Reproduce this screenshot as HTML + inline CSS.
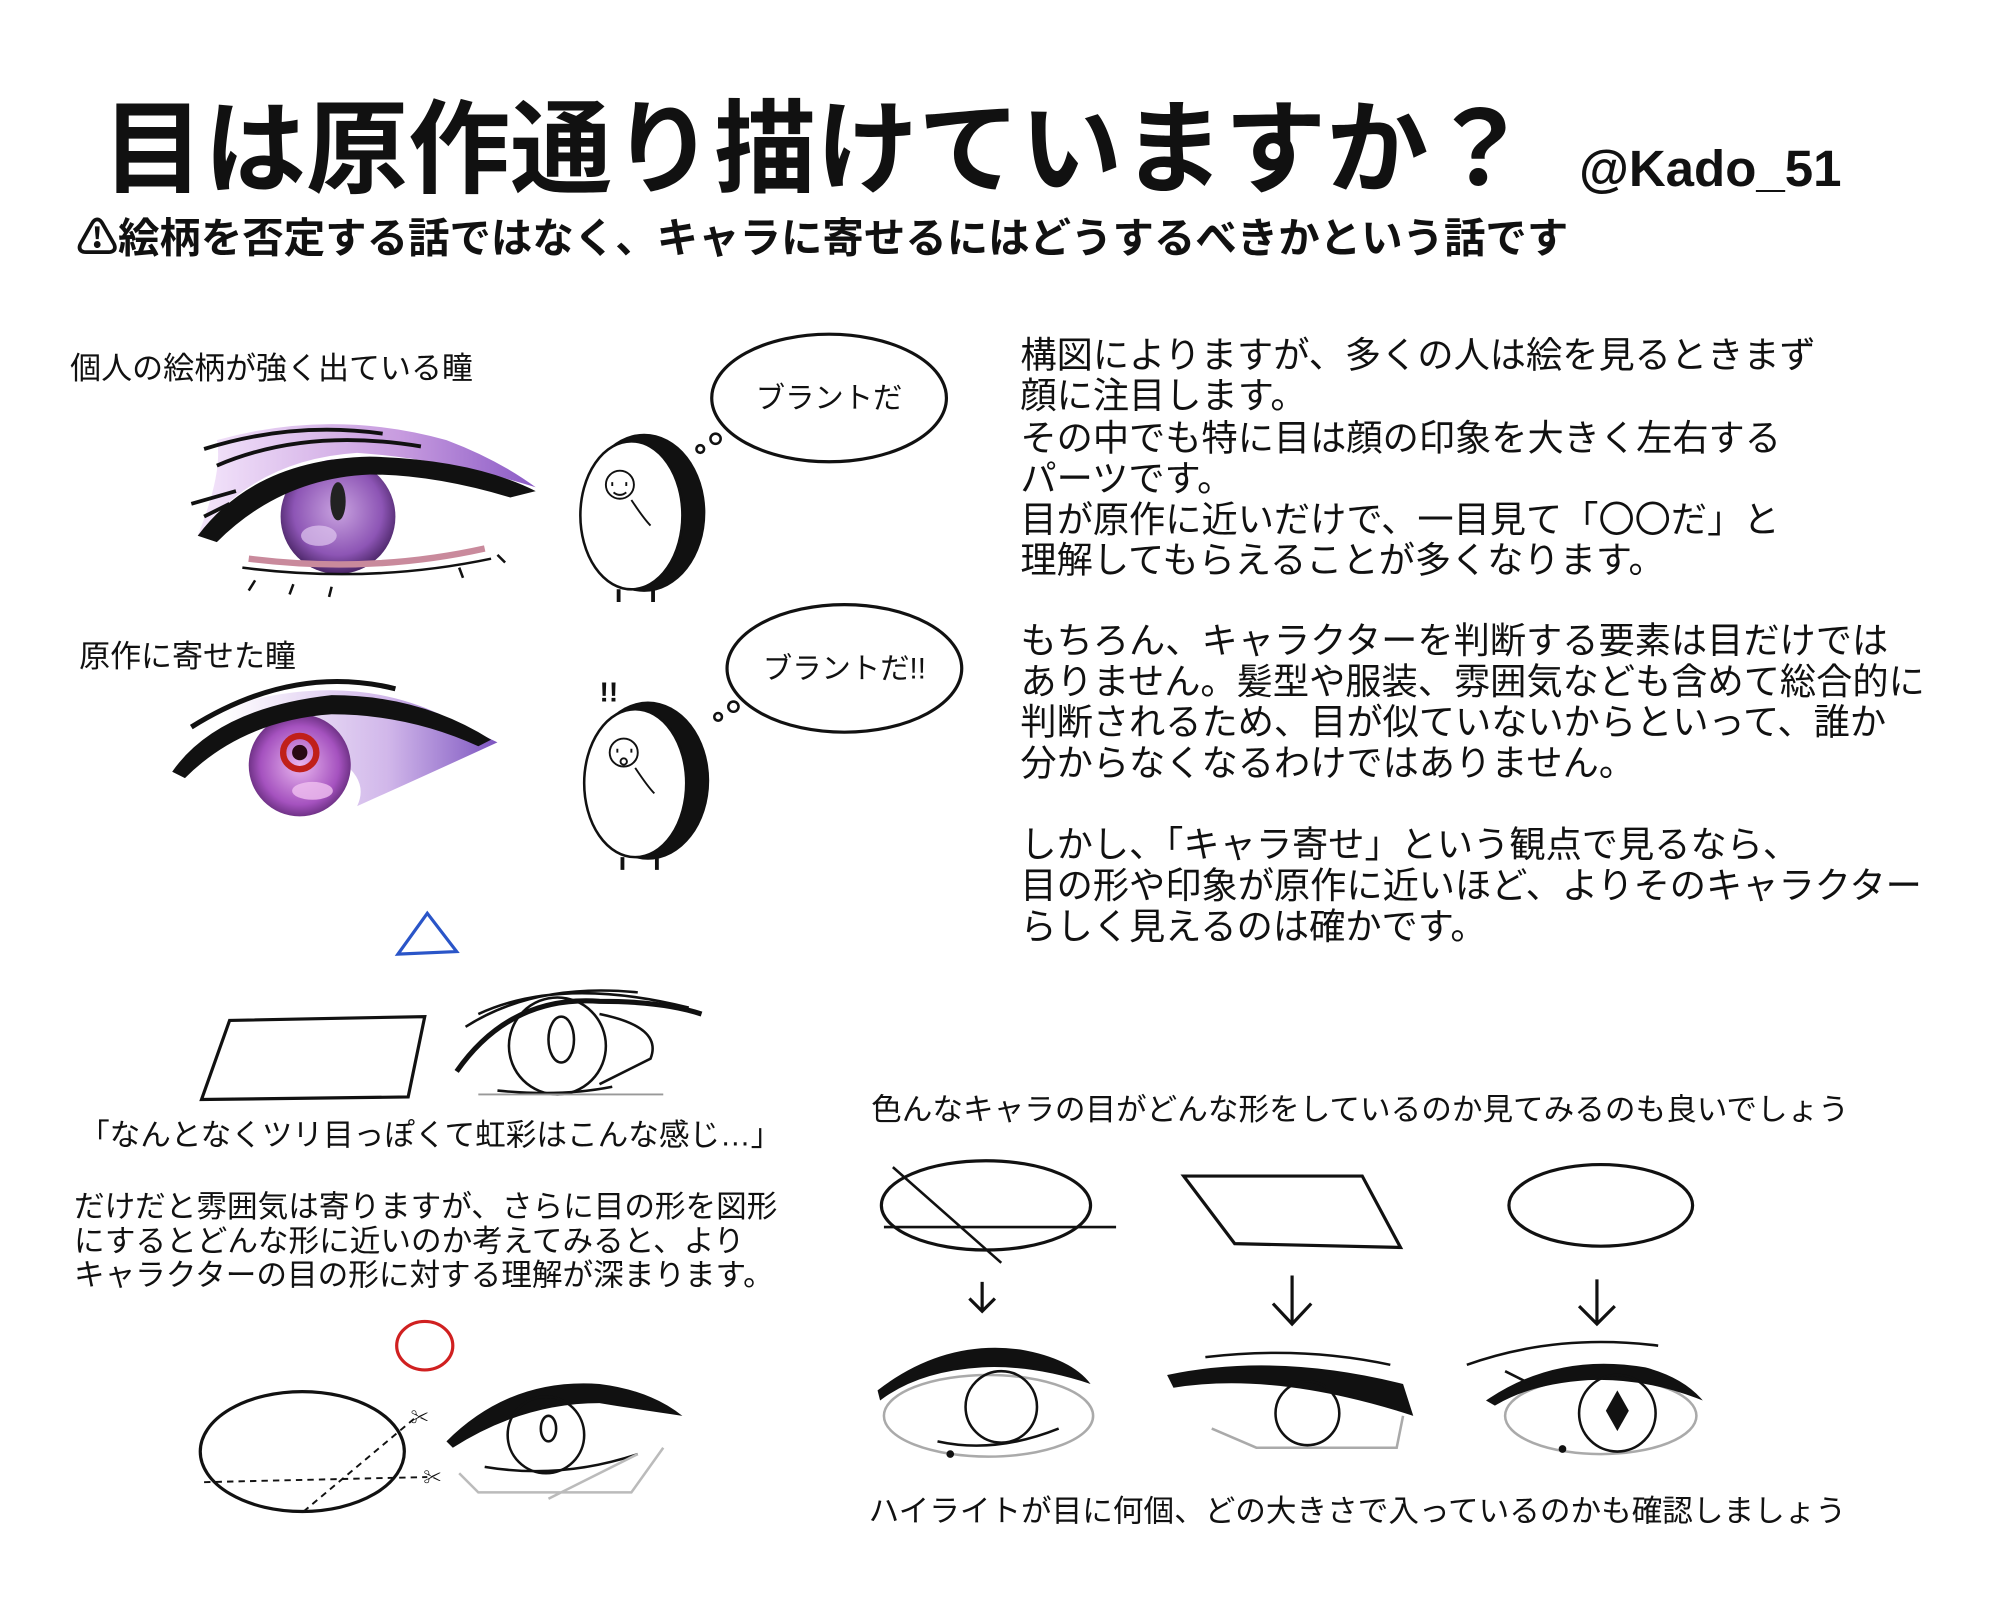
<!DOCTYPE html>
<html><head><meta charset="utf-8">
<style>
html,body{margin:0;padding:0;background:#fff;}
svg{display:block;}
text{font-family:"Liberation Sans","Noto Sans CJK JP",sans-serif;fill:#111;}
</style></head>
<body>
<svg width="2000" height="1611" viewBox="0 0 1568 1263" xmlns="http://www.w3.org/2000/svg">
<defs>
<radialGradient id="iris1" cx="50%" cy="45%" r="55%"><stop offset="0" stop-color="#c9a3e0"/><stop offset="0.7" stop-color="#8d55b5"/><stop offset="1" stop-color="#4a2566"/></radialGradient>
<radialGradient id="iris2" cx="50%" cy="50%" r="55%"><stop offset="0" stop-color="#e9b6ef"/><stop offset="0.7" stop-color="#a552bf"/><stop offset="1" stop-color="#5a2570"/></radialGradient>
<linearGradient id="shadow1" x1="0" x2="1"><stop offset="0" stop-color="#f4e6fb"/><stop offset="0.6" stop-color="#c79bdf"/><stop offset="1" stop-color="#8b5bc6"/></linearGradient>
<linearGradient id="shadow2" x1="0" x2="1"><stop offset="0" stop-color="#ffffff"/><stop offset="0.6" stop-color="#d1b7ea"/><stop offset="1" stop-color="#7d55c0"/></linearGradient>
</defs>
<rect width="1568" height="1263" fill="#fff"/>

<text x="80" y="145" font-size="80" font-weight="bold">目は原作通り描けていますか？</text>
<text x="1238" y="146" font-size="40" font-weight="bold">@Kado_51</text>
<text x="60" y="198" font-size="32.5" font-weight="bold">⚠絵柄を否定する話ではなく、キャラに寄せるにはどうするべきかという話です</text>

<text x="55" y="297" font-size="24.3">個人の絵柄が強く出ている瞳</text>
<text x="62" y="523" font-size="24.3">原作に寄せた瞳</text>

<!-- Eye 1 -->
<path d="M170 345 Q260 320 350 345 Q390 360 420 382 Q350 360 280 355 Q200 360 155 420 Q175 370 170 345Z" fill="url(#shadow1)"/>
<circle cx="265" cy="405" r="45" fill="url(#iris1)"/>
<ellipse cx="265" cy="393" rx="6" ry="15" fill="#222"/>
<ellipse cx="250" cy="420" rx="14" ry="8" fill="#e0c8f0" opacity="0.7"/>
<path d="M155 420 Q200 360 290 358 Q370 360 420 385 L400 390 Q340 372 290 372 Q220 375 170 425Z" fill="#111"/>
<path d="M160 352 Q230 330 300 340 M170 365 Q240 335 330 350 M180 395 L160 405 M185 385 L150 395" stroke="#111" stroke-width="3" fill="none"/>
<path d="M195 438 Q290 450 380 430" stroke="#c98a9c" stroke-width="5" fill="none"/>
<path d="M190 445 Q290 458 385 438" stroke="#111" stroke-width="2" fill="none"/>
<path d="M200 455 l-5 8 M230 458 l-3 8 M260 460 l-2 8 M360 445 l3 8 M390 435 l6 6" stroke="#111" stroke-width="2"/>

<!-- Eye 2 -->
<path d="M175 555 Q270 525 345 560 Q375 575 390 582 Q340 605 280 632 Q300 590 175 565Z" fill="url(#shadow2)"/>
<circle cx="235" cy="600" r="40" fill="url(#iris2)"/>
<circle cx="235" cy="590" r="13" fill="none" stroke="#c0201a" stroke-width="5"/>
<circle cx="235" cy="590" r="6" fill="#2a0a14"/>
<ellipse cx="245" cy="620" rx="16" ry="7" fill="#f0c0f0" opacity="0.8"/>
<path d="M135 605 Q170 555 260 545 Q330 545 385 580 L375 585 Q320 560 260 560 Q190 565 145 610Z" fill="#111"/>
<path d="M150 570 Q230 520 310 540" stroke="#111" stroke-width="4" fill="none"/>

<!-- Bubbles -->
<ellipse cx="650" cy="312" rx="92" ry="50" fill="#fff" stroke="#111" stroke-width="2.5"/>
<text x="650" y="320" font-size="23" text-anchor="middle">ブラントだ</text>
<circle cx="561" cy="344" r="4" fill="none" stroke="#111" stroke-width="2"/>
<circle cx="549" cy="352" r="3" fill="none" stroke="#111" stroke-width="2"/>
<ellipse cx="662" cy="524" rx="92" ry="50" fill="#fff" stroke="#111" stroke-width="2.5"/>
<text x="662" y="532" font-size="23" text-anchor="middle">ブラントだ!!</text>
<circle cx="575" cy="554" r="4" fill="none" stroke="#111" stroke-width="2"/>
<circle cx="563" cy="562" r="3" fill="none" stroke="#111" stroke-width="2"/>

<!-- Egg 1 -->
<ellipse cx="505" cy="402" rx="48" ry="62" fill="#111"/>
<ellipse cx="495" cy="404" rx="40" ry="58" fill="#fff" stroke="#111" stroke-width="2"/>
<circle cx="486" cy="380" r="11" fill="none" stroke="#111" stroke-width="1.5"/>
<path d="M480 378 v3 M491 378 v3 M481 386 q5 4 10 0 M495 392 q10 15 15 20" stroke="#111" stroke-width="1.5" fill="none"/>
<path d="M485 462 v10 M512 462 v10" stroke="#111" stroke-width="3"/>
<!-- Egg 2 -->
<ellipse cx="508" cy="612" rx="48" ry="62" fill="#111"/>
<ellipse cx="498" cy="614" rx="40" ry="58" fill="#fff" stroke="#111" stroke-width="2"/>
<circle cx="489" cy="590" r="11" fill="none" stroke="#111" stroke-width="1.5"/>
<path d="M484 587 v3 M495 587 v3 M498 602 q10 15 15 20" stroke="#111" stroke-width="1.5" fill="none"/>
<circle cx="489" cy="597" r="2.5" fill="none" stroke="#111" stroke-width="1.5"/>
<path d="M488 672 v10 M515 672 v10" stroke="#111" stroke-width="3"/>
<text x="470" y="550" font-size="22" font-weight="bold">!!</text>

<g font-size="28.4">
<text x="800" y="288">構図によりますが、多くの人は絵を見るときまず</text>
<text x="800" y="320">顔に注目します。</text>
<text x="800" y="353">その中でも特に目は顔の印象を大きく左右する</text>
<text x="800" y="385">パーツです。</text>
<text x="800" y="417">目が原作に近いだけで、一目見て「〇〇だ」と</text>
<text x="800" y="449">理解してもらえることが多くなります。</text>
<text x="800" y="512">もちろん、キャラクターを判断する要素は目だけでは</text>
<text x="800" y="544">ありません。髪型や服装、雰囲気なども含めて総合的に</text>
<text x="800" y="576">判断されるため、目が似ていないからといって、誰か</text>
<text x="800" y="608">分からなくなるわけではありません。</text>
<text x="800" y="672">しかし、「キャラ寄せ」という観点で見るなら、</text>
<text x="800" y="704">目の形や印象が原作に近いほど、よりそのキャラクター</text>
<text x="800" y="736">らしく見えるのは確かです。</text>
</g>

<path d="M312 748 L335 716 L358 746 Z" fill="none" stroke="#2a55c8" stroke-width="2.5"/>
<path d="M180 800 L333 797 L320 860 L158 862 Z" fill="none" stroke="#111" stroke-width="2.5"/>
<path d="M358 840 Q400 780 470 785 Q520 785 550 795" stroke="#111" stroke-width="4" fill="none"/>
<path d="M365 805 Q420 770 500 778 M375 795 Q440 765 540 790" stroke="#111" stroke-width="2" fill="none"/>
<path d="M470 795 Q520 805 510 830 L470 850" stroke="#111" stroke-width="2" fill="none"/>
<circle cx="437" cy="820" r="38" fill="none" stroke="#111" stroke-width="2"/>
<ellipse cx="440" cy="815" rx="10" ry="18" fill="none" stroke="#111" stroke-width="2"/>
<path d="M390 855 Q440 860 480 852" stroke="#111" stroke-width="2" fill="none"/>
<path d="M375 858 L520 858" stroke="#999" stroke-width="1.5"/>

<g font-size="24">
<text x="62" y="898">「なんとなくツリ目っぽくて虹彩はこんな感じ…」</text>
<text x="58" y="954">だけだと雰囲気は寄りますが、さらに目の形を図形</text>
<text x="58" y="981">にするとどんな形に近いのか考えてみると、より</text>
<text x="58" y="1008">キャラクターの目の形に対する理解が深まります。</text>
</g>

<ellipse cx="333" cy="1055" rx="22" ry="19" fill="none" stroke="#d02020" stroke-width="2.5"/>
<ellipse cx="237" cy="1138" rx="80" ry="47" fill="none" stroke="#111" stroke-width="2.5"/>
<path d="M160 1162 L335 1158 M238 1185 L325 1112" stroke="#111" stroke-width="1.5" stroke-dasharray="5 4"/>
<text x="322" y="1116" font-size="14">✂</text>
<text x="332" y="1163" font-size="14">✂</text>
<path d="M350 1130 Q400 1080 470 1085 Q510 1090 535 1110 Q500 1105 470 1100 Q410 1100 355 1135Z" fill="#111"/>
<circle cx="428" cy="1125" r="30" fill="none" stroke="#111" stroke-width="2"/>
<ellipse cx="430" cy="1120" rx="6" ry="10" fill="none" stroke="#111" stroke-width="2"/>
<path d="M380 1150 Q440 1160 500 1140" stroke="#111" stroke-width="2" fill="none"/>
<path d="M360 1155 L375 1170 L495 1170 L520 1135 M430 1175 L500 1140" stroke="#bbb" stroke-width="2" fill="none"/>

<text x="683" y="878" font-size="24">色んなキャラの目がどんな形をしているのか見てみるのも良いでしょう</text>
<ellipse cx="773" cy="945" rx="82" ry="35" fill="none" stroke="#111" stroke-width="2.5"/>
<path d="M700 915 L785 990 M693 962 L875 962" stroke="#111" stroke-width="2"/>
<path d="M928 922 L1068 922 L1098 978 L968 975 Z" fill="none" stroke="#111" stroke-width="2.5"/>
<ellipse cx="1255" cy="945" rx="72" ry="32" fill="none" stroke="#111" stroke-width="2.5"/>
<path d="M770 1005 V1028 M760 1018 L770 1028 L780 1018" stroke="#111" stroke-width="2.5" fill="none"/>
<path d="M1013 1000 V1038 M998 1022 L1013 1038 L1028 1022" stroke="#111" stroke-width="2.5" fill="none"/>
<path d="M1252 1003 V1038 M1238 1024 L1252 1038 L1266 1024" stroke="#111" stroke-width="2.5" fill="none"/>

<ellipse cx="775" cy="1110" rx="82" ry="32" fill="none" stroke="#aaa" stroke-width="2"/>
<path d="M688 1090 Q740 1050 800 1058 Q840 1065 855 1085 Q810 1070 770 1072 Q720 1075 690 1098Z" fill="#111"/>
<circle cx="785" cy="1103" r="28" fill="none" stroke="#111" stroke-width="2"/>
<path d="M735 1130 Q780 1140 830 1120" stroke="#111" stroke-width="2" fill="none"/>
<circle cx="745" cy="1140" r="3" fill="#111"/>
<path d="M915 1078 Q1000 1060 1100 1085 L1108 1110 Q1000 1075 920 1088Z" fill="#111"/>
<path d="M945 1064 Q1020 1055 1090 1070" stroke="#111" stroke-width="2" fill="none"/>
<circle cx="1025" cy="1108" r="25" fill="none" stroke="#111" stroke-width="2"/>
<path d="M950 1120 L985 1135 L1095 1135 L1100 1110" stroke="#aaa" stroke-width="2" fill="none"/>
<ellipse cx="1255" cy="1110" rx="75" ry="30" fill="none" stroke="#aaa" stroke-width="2"/>
<path d="M1165 1098 Q1220 1060 1290 1072 Q1320 1080 1335 1098 Q1290 1080 1245 1082 Q1200 1085 1172 1102Z" fill="#111"/>
<path d="M1180 1075 L1200 1085 M1150 1070 Q1220 1045 1300 1055" stroke="#111" stroke-width="2" fill="none"/>
<circle cx="1268" cy="1108" r="30" fill="none" stroke="#111" stroke-width="2"/>
<path d="M1268 1090 L1277 1106 L1268 1122 L1259 1106 Z" fill="#111"/>
<circle cx="1225" cy="1136" r="3" fill="#111"/>

<text x="681" y="1193" font-size="24">ハイライトが目に何個、どの大きさで入っているのかも確認しましょう</text>
</svg>
</body></html>
